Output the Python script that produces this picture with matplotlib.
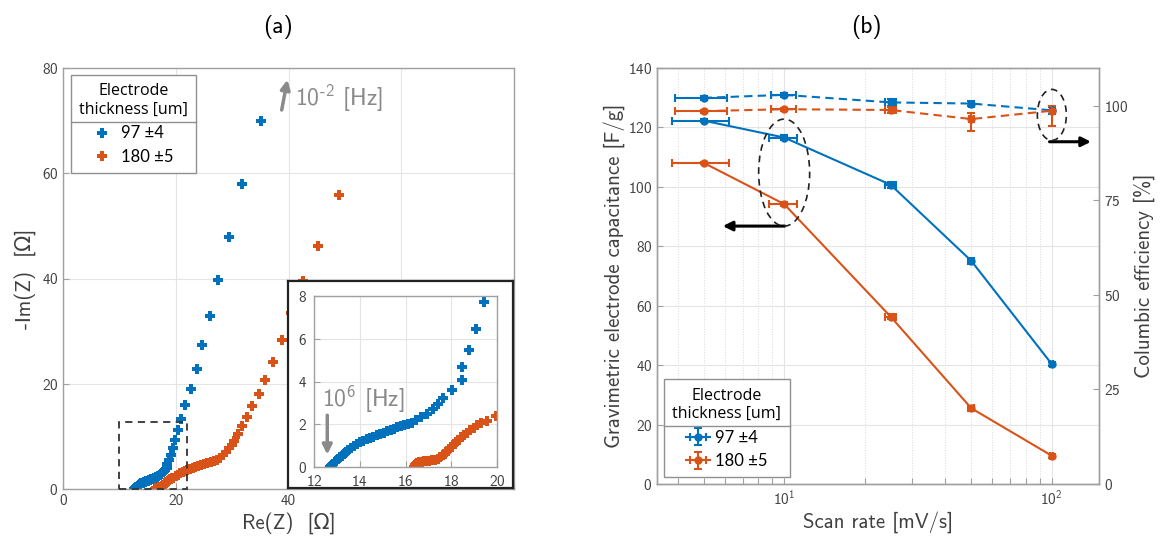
import matplotlib
matplotlib.use('Agg')
import matplotlib.pyplot as plt
from matplotlib.patches import Ellipse, Rectangle
from matplotlib.lines import Line2D
from matplotlib.font_manager import FontProperties

plt.rcParams['font.family'] = ['cmss10', 'DejaVu Sans']
plt.rcParams['mathtext.fontset'] = 'custom'
plt.rcParams['mathtext.rm'] = 'cmss10'
plt.rcParams['mathtext.it'] = 'cmss10'
plt.rcParams['mathtext.sf'] = 'cmss10'
plt.rcParams['axes.unicode_minus'] = False
plt.rcParams['axes.formatter.use_mathtext'] = True

# ---------------- Panel (a): Nyquist data ----------------
re_97 = [12.68, 12.73, 12.79, 12.85, 12.91, 12.98, 13.06, 13.14, 13.22, 13.31,
         13.40, 13.50, 13.61, 13.73, 13.86, 14.00, 14.15, 14.30, 14.45, 14.60,
         14.75, 14.90, 15.05, 15.20, 15.35, 15.50, 15.65, 15.80, 15.95, 16.10,
         16.28, 16.46, 16.69, 16.93, 17.19, 17.44, 17.66, 18.02, 18.45, 18.49,
         18.77, 19.08, 19.45, 19.90, 20.40, 20.90, 21.70, 22.70, 23.70, 24.70,
         26.00, 27.50, 29.40, 31.80, 35.15]
im_97 = [0.00, 0.05, 0.10, 0.16, 0.22, 0.29, 0.37, 0.45, 0.53, 0.62,
         0.71, 0.80, 0.89, 0.98, 1.07, 1.15, 1.22, 1.30, 1.36, 1.42,
         1.49, 1.56, 1.61, 1.67, 1.73, 1.80, 1.85, 1.90, 1.95, 2.00,
         2.08, 2.20, 2.34, 2.50, 2.72, 2.94, 3.23, 3.59, 4.06, 4.66,
         5.47, 6.45, 7.73, 9.30, 11.20, 13.30, 15.90, 19.00, 22.80, 27.40,
         32.90, 39.70, 47.90, 58.00, 70.00]

re_180 = [16.36, 16.40, 16.45, 16.52, 16.60, 16.70, 16.80, 16.92, 17.04, 17.16,
          17.28, 17.40, 17.52, 17.62, 17.72, 17.82, 17.92, 18.02, 18.12, 18.22,
          18.32, 18.44, 18.56, 18.70, 18.84, 18.98, 19.14, 19.30, 19.56, 19.97,
          20.40, 20.80, 21.20, 21.60, 22.00, 22.50, 23.00, 23.50, 24.00, 24.50,
          25.00, 25.60, 26.20, 26.80, 27.40, 27.90, 28.40, 28.90, 29.40, 29.90,
          30.40, 31.00, 31.80, 32.60, 33.50, 34.70, 35.80, 37.30, 38.80, 40.40,
          42.50, 45.20, 48.90]
im_180 = [0.00, 0.08, 0.14, 0.19, 0.22, 0.25, 0.27, 0.28, 0.29, 0.31,
          0.34, 0.39, 0.46, 0.54, 0.63, 0.73, 0.84, 0.95, 1.06, 1.17,
          1.28, 1.39, 1.50, 1.61, 1.72, 1.84, 1.96, 2.06, 2.15, 2.39,
          2.70, 3.00, 3.20, 3.40, 3.60, 3.80, 4.00, 4.20, 4.40, 4.60,
          4.75, 4.90, 5.05, 5.25, 5.50, 5.90, 6.40, 7.00, 7.70, 8.40,
          9.20, 10.50, 11.90, 13.70, 15.70, 18.10, 20.80, 24.10, 28.30, 33.50,
          39.50, 46.20, 55.90]

nyq_ticks = [0, 20, 40, 60, 80]
nyq_ticklabels = ['0', '20', '40', '', '']
inset_xticks = [12, 14, 16, 18, 20]
inset_yticks = [0, 2, 4, 6, 8]

# ---------------- Panel (b): rate capability ----------------
scan_rate = [5, 10, 25, 50, 100]
cap_97 = [122.3, 116.6, 100.7, 75.1, 40.3]
cap_180 = [108.1, 94.2, 56.3, 25.5, 9.5]
cap_97_err = [0.5, 0.8, 1.0, 1.0, 0.6]
cap_180_err = [0.4, 0.6, 0.8, 0.8, 0.7]
eff_97 = [102.1, 102.9, 100.9, 100.6, 98.8]
eff_180 = [98.6, 99.1, 98.9, 96.5, 98.7]
eff_97_err = [0.6, 0.6, 0.9, 0.6, 1.0]
eff_180_err_lo = [0.4, 0.4, 0.8, 3.1, 4.0]
eff_180_err_hi = [0.4, 0.4, 0.8, 1.7, 1.3]
rate_err = [1.2, 1.2, 1.2, 1.2, 1.2]
rate_err_eff = [1.1, 1.1, 1.1, 1.1, 1.1]
labels = ['97 ±4', '180 ±5']

W, H = 1164, 545
BLUE = '#0072BD'
ORANGE = '#D95319'
TXT = '#404040'
SPINE = '#a0a0a0'
GRID = '#e4e4e4'
ANN = '#8a8a8a'

fig = plt.figure(figsize=(W / 100, H / 100), dpi=100)


def style(ax, fs=11):
    for s in ax.spines.values():
        s.set_color(SPINE)
        s.set_linewidth(1.0)
    ax.tick_params(which='both', direction='in', length=4, width=0.8,
                   colors=SPINE, labelcolor=TXT, labelsize=fs)
    ax.set_axisbelow(True)


def px_axes(l, t, r, b):
    return [l / W, 1 - b / H, (r - l) / W, (b - t) / H]


leg_prop = FontProperties(family=['Lato', 'DejaVu Sans'], size=12)
title_prop = FontProperties(family='Open Sans', size=11.5)

# ---- (a) main
axA = fig.add_axes(px_axes(63, 68, 514, 489))
style(axA)
axA.grid(True, color=GRID, lw=0.8)
axA.plot(re_97, im_97, 'P', color=BLUE, ms=7.5, mew=0, ls='none', label=labels[0])
axA.plot(re_180, im_180, 'P', color=ORANGE, ms=7.5, mew=0, ls='none', label=labels[1])
axA.set_xlim(0, 80)
axA.set_ylim(0, 80)
axA.set_xticks(nyq_ticks)
axA.set_xticklabels(nyq_ticklabels)
axA.set_yticks(nyq_ticks)
axA.set_xlabel('Re(Z)  [Ω]', fontsize=15, color=TXT, labelpad=3)
axA.set_ylabel('-Im(Z)  [Ω]', fontsize=15, color=TXT, labelpad=4)
axA.add_patch(Rectangle((10, 0), 12, 12.8, fill=False, ls=(0, (4, 3)), lw=1.3,
                        edgecolor='#333333', zorder=5, clip_on=False))
axA.annotate('', xy=(39.9, 78.3), xytext=(38.7, 71.5),
             arrowprops=dict(arrowstyle='-|>', color=ANN, lw=2.5, mutation_scale=14))
axA.text(41.2, 74.2, r'10$^{\text{-2}}$ [Hz]', fontsize=17, color=ANN, va='center', ha='left')

legA = axA.legend(loc='upper left', bbox_to_anchor=(0.017, 0.983), prop=leg_prop,
                  title='Electrode\nthickness [um]', title_fontproperties=title_prop,
                  alignment='center', handlelength=1.0, handletextpad=0.6,
                  borderpad=0.5, labelspacing=0.45, numpoints=1, borderaxespad=0,
                  fancybox=False, framealpha=1, edgecolor='#909090')
legA.get_frame().set_linewidth(1.0)
legA.get_title().set_multialignment('center')

# ---- (a) inset
boxA = fig.add_axes(px_axes(288, 281, 513, 488))
boxA.set_xticks([])
boxA.set_yticks([])
boxA.set_facecolor('white')
for s in boxA.spines.values():
    s.set_color('#222222')
    s.set_linewidth(1.6)

axI = fig.add_axes(px_axes(314, 296, 497, 467))
style(axI, fs=11)
axI.tick_params(axis='x', pad=5)
axI.tick_params(axis='y', pad=5)
axI.grid(True, color=GRID, lw=0.8)
axI.plot(re_97, im_97, 'P', color=BLUE, ms=7, mew=0, ls='none')
axI.plot(re_180, im_180, 'P', color=ORANGE, ms=7, mew=0, ls='none')
axI.set_xlim(12, 20)
axI.set_ylim(0, 8)
axI.set_xticks(inset_xticks)
axI.set_yticks(inset_yticks)
axI.annotate('', xy=(12.58, 0.45), xytext=(12.58, 2.55),
             arrowprops=dict(arrowstyle='-|>', color=ANN, lw=2.5, mutation_scale=14))
axI.text(12.35, 3.15, r'10$^{6}$ [Hz]', fontsize=17, color=ANN, va='center', ha='left')

# ---- (b)
axB = fig.add_axes(px_axes(657, 68, 1099, 484))
style(axB)
axB.set_xscale('log')
axB.set_xlim(3.35, 150)
axB.set_ylim(0, 140)
axB.set_yticks([0, 20, 40, 60, 80, 100, 120, 140])
axB.grid(True, which='major', color=GRID, lw=0.8)
axB.grid(True, which='minor', axis='x', color='#d8d8d8', lw=0.7, ls=':')
axB2 = axB.twinx()
style(axB2)
axB2.set_ylim(0, 110)
axB2.set_yticks([0, 25, 50, 75, 100])

ekw = dict(marker='o', ms=5, lw=1.5, elinewidth=1.5, capsize=3, capthick=1.5)
h1 = axB.errorbar(scan_rate, cap_97, xerr=rate_err, yerr=cap_97_err, color=BLUE,
                  label=labels[0], **ekw)
h2 = axB.errorbar(scan_rate, cap_180, xerr=rate_err, yerr=cap_180_err, color=ORANGE,
                  label=labels[1], **ekw)
d1 = axB2.errorbar(scan_rate, eff_97, xerr=rate_err_eff, yerr=eff_97_err, color=BLUE,
                   **ekw)
d2 = axB2.errorbar(scan_rate, eff_180, xerr=rate_err_eff,
                   yerr=[eff_180_err_lo, eff_180_err_hi], color=ORANGE, **ekw)
for d in (d1, d2):
    d.lines[0].set_dashes((4, 2.5))

axB.set_xlabel('Scan rate [mV/s]', fontsize=15, color=TXT, labelpad=3)
axB.set_ylabel('Gravimetric electrode capacitance [F/g]', fontsize=15, color=TXT, labelpad=2)
axB2.set_ylabel('Columbic efficiency [%]', fontsize=15, color=TXT, labelpad=4)

fig.canvas.draw()


def to_axes(ax, x, y):
    p = ax.transData.transform((x, y))
    return ax.transAxes.inverted().transform(p)

c1 = to_axes(axB, 10, 104.8)
axB2.add_patch(Ellipse(c1, 51 / 442, 107 / 416, transform=axB2.transAxes, fill=False,
                       ls=(0, (4, 3)), lw=1.2, edgecolor='#222222', zorder=6))
c2 = to_axes(axB2, 100, 97.6)
axB2.add_patch(Ellipse(c2, 29 / 442, 51 / 416, transform=axB2.transAxes, fill=False,
                       ls=(0, (4, 3)), lw=1.2, edgecolor='#222222', zorder=6))
axB.annotate('', xy=(5.9, 86.8), xytext=(10.05, 86.8),
             arrowprops=dict(arrowstyle='-|>', color='black', lw=2.2, mutation_scale=14,
                             shrinkA=0, shrinkB=0))
axB2.annotate('', xy=(140, 90.5), xytext=(98, 90.5),
              arrowprops=dict(arrowstyle='-|>', color='black', lw=2.2, mutation_scale=14,
                              shrinkA=0, shrinkB=0))

legB = axB2.legend(handles=[h1, h2], loc='lower left', bbox_to_anchor=(0.016, 0.016),
                   prop=leg_prop, title='Electrode\nthickness [um]',
                   title_fontproperties=title_prop,
                   alignment='center', handlelength=1.4, handletextpad=0.3,
                   borderpad=0.5, labelspacing=0.45, borderaxespad=0,
                   fancybox=False, framealpha=1, edgecolor='#909090')
legB.get_frame().set_linewidth(1.0)
legB.get_title().set_multialignment('center')

fig.text(278 / W, 1 - 27 / H, '(a)', fontsize=17, ha='center', va='center', color='black')
fig.text(866 / W, 1 - 27 / H, '(b)', fontsize=17, ha='center', va='center', color='black')

fig.canvas.draw()
r = fig.canvas.get_renderer()
for leg in (legA, legB):
    fb = leg.get_frame().get_window_extent(r)
    tb = leg.get_title().get_window_extent(r)
    t1 = leg.get_texts()[0].get_window_extent(r)
    y = (tb.y0 + t1.y1) / 2
    fig.add_artist(Line2D([fb.x0 / W, fb.x1 / W], [y / H, y / H], transform=fig.transFigure,
                          color='#909090', lw=1.0, zorder=10))

fig.savefig('out.png', dpi=100)
